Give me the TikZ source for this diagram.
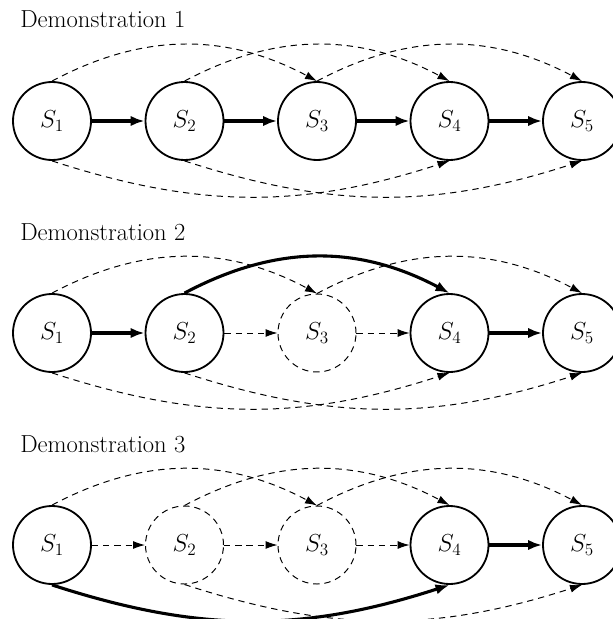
\RequirePackage{fix-cm}
\documentclass[tikz,border=0pt]{standalone}
\usepackage{amsmath}
\usepackage{tikz}
\usetikzlibrary{arrows.meta,positioning}

\begin{document}
\begin{tikzpicture}[
    state/.style={circle, draw, line width=1.3pt, minimum size=1.95cm, inner sep=0pt, font=\fontsize{17.5}{21}\selectfont},
    skipped/.style={state, line width=0.7pt, dash pattern=on 4.5pt off 3.5pt},
    arrow/.style={-{Latex[length=3.5mm,width=2.6mm]}, line width=2.2pt},
    skiparrow/.style={-{Latex[length=3mm,width=2mm]}, line width=0.7pt, dash pattern=on 4.5pt off 3.5pt},
    title/.style={anchor=base west, inner sep=0pt, font=\fontsize{17.5}{21}\selectfont}
]
\useasboundingbox (0,0) rectangle (15.3,-15.475);

% Demonstration 1
\node[title] (t1) at (0.5,-0.7) {Demonstration 1};
\node[state] (a1) at (1.3,-3.025) {$S_1$};
\node[state] (a2) at (4.6125,-3.025) {$S_2$};
\node[state] (a3) at (7.925,-3.025) {$S_3$};
\node[state] (a4) at (11.2375,-3.025) {$S_4$};
\node[state] (a5) at (14.55,-3.025) {$S_5$};

\draw[arrow] (a1) -- (a2);
\draw[arrow] (a2) -- (a3);
\draw[arrow] (a3) -- (a4);
\draw[arrow] (a4) -- (a5);

\draw[skiparrow] (a1.north) to[bend left=28] (a3.north);
\draw[skiparrow] (a2.north) to[bend left=28] (a4.north);
\draw[skiparrow] (a3.north) to[bend left=28] (a5.north);
\draw[skiparrow] (a1.south) to[bend right=18] (a4.south);
\draw[skiparrow] (a2.south) to[bend right=18] (a5.south);

% Demonstration 2
\node[title] (t2) at (0.5,-6.0) {Demonstration 2};
\node[state] (b1) at (1.3,-8.325) {$S_1$};
\node[state] (b2) at (4.6125,-8.325) {$S_2$};
\node[skipped] (b3) at (7.925,-8.325) {$S_3$};
\node[state] (b4) at (11.2375,-8.325) {$S_4$};
\node[state] (b5) at (14.55,-8.325) {$S_5$};

\draw[arrow] (b1) -- (b2);
\draw[skiparrow] (b2) -- (b3);
\draw[skiparrow] (b3) -- (b4);
\draw[arrow] (b4) -- (b5);

\draw[skiparrow] (b1.north) to[bend left=28] (b3.north);
\draw[arrow] (b2.north) to[bend left=28] (b4.north);
\draw[skiparrow] (b3.north) to[bend left=28] (b5.north);
\draw[skiparrow] (b1.south) to[bend right=18] (b4.south);
\draw[skiparrow] (b2.south) to[bend right=18] (b5.south);

% Demonstration 3
\node[title] (t3) at (0.5,-11.3) {Demonstration 3};
\node[state] (c1) at (1.3,-13.625) {$S_1$};
\node[skipped] (c2) at (4.6125,-13.625) {$S_2$};
\node[skipped] (c3) at (7.925,-13.625) {$S_3$};
\node[state] (c4) at (11.2375,-13.625) {$S_4$};
\node[state] (c5) at (14.55,-13.625) {$S_5$};

\draw[skiparrow] (c1) -- (c2);
\draw[skiparrow] (c2) -- (c3);
\draw[skiparrow] (c3) -- (c4);
\draw[arrow] (c4) -- (c5);

\draw[skiparrow] (c1.north) to[bend left=28] (c3.north);
\draw[skiparrow] (c2.north) to[bend left=28] (c4.north);
\draw[skiparrow] (c3.north) to[bend left=28] (c5.north);
\draw[arrow] (c1.south) to[bend right=18] (c4.south);
\draw[skiparrow] (c2.south) to[bend right=18] (c5.south);

\end{tikzpicture}
\end{document}
